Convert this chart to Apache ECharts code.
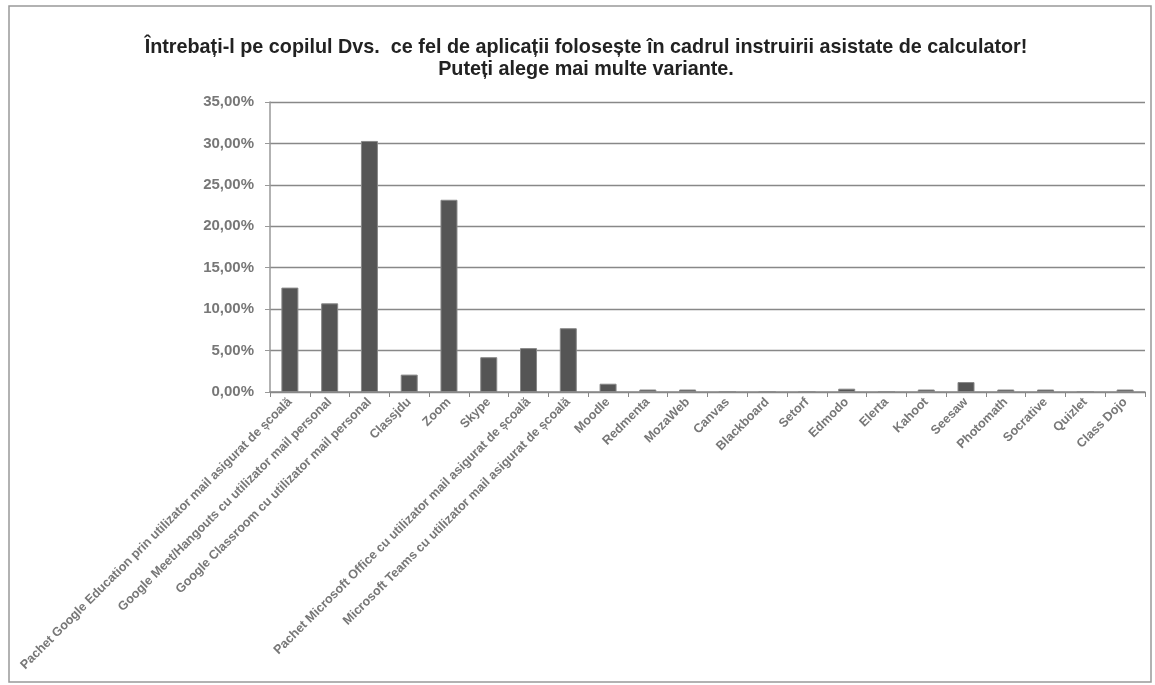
<!DOCTYPE html>
<html>
<head>
<meta charset="utf-8">
<script src="https://cdn.jsdelivr.net/npm/echarts@6/dist/echarts.min.js"></script>
<style>
  html, body { margin: 0; padding: 0; background: #fff; }
  #chart { width: 1155px; height: 685px; }
</style>
</head>
<body>
<div id="chart"></div>
<script>
  const categories = [
    'Pachet Google Education prin utilizator mail asigurat de școală',
    'Google Meet/Hangouts cu utilizator mail personal',
    'Google Classroom cu utilizator mail personal',
    'Classjdu',
    'Zoom',
    'Skype',
    'Pachet Microsoft Office cu utilizator mail asigurat de școală',
    'Microsoft Teams cu utilizator mail asigurat de școală',
    'Moodle',
    'Redmenta',
    'MozaWeb',
    'Canvas',
    'Blackboard',
    'Setorf',
    'Edmodo',
    'Elerta',
    'Kahoot',
    'Seesaw',
    'Photomath',
    'Socrative',
    'Quizlet',
    'Class Dojo'
  ]
  // procente
  const values = [12.6, 10.7, 30.3, 2.1, 23.2, 4.2, 5.3, 7.7, 1.0, 0.3, 0.3, 0, 0, 0, 0.4, 0, 0.3, 1.2, 0.3, 0.3, 0, 0.3]
  const yTicks = { min: 0, max: 35, interval: 5 }

  const titleLines = [
    'Întrebați-l pe copilul Dvs.  ce fel de aplicații folosește în cadrul instruirii asistate de calculator!',
    'Puteți alege mai multe variante.'
  ]

  const chart = echarts.init(document.getElementById('chart'))
  chart.setOption({
    backgroundColor: '#fff',
    animation: false,
    title: {
      text: titleLines.join('\n'),
      left: 581,
      top: 32,
      textAlign: 'center',
      textStyle: {
        fontFamily: 'Liberation Sans, Arial, sans-serif',
        fontSize: 19.8,
        fontWeight: 'bold',
        color: '#222',
        lineHeight: 22
      }
    },
    graphic: [{
      type: 'rect',
      shape: { x: 9, y: 6, width: 1142, height: 676 },
      style: { fill: 'none', stroke: '#999', lineWidth: 1.5 },
      silent: true
    }],
    grid: { left: 270, right: 10, top: 102, bottom: 293 },
    xAxis: {
      type: 'category',
      data: categories,
      axisLine: { lineStyle: { color: '#888', width: 1.5 } },
      axisTick: { show: true, alignWithLabel: false, length: 5, lineStyle: { color: '#888' } },
      axisLabel: {
        interval: 0,
        rotate: 45,
        margin: 8,
        color: '#777',
        fontSize: 12.6,
        fontWeight: 'bold',
        fontFamily: 'Liberation Sans, Arial, sans-serif'
      }
    },
    yAxis: {
      type: 'value',
      min: yTicks.min,
      max: yTicks.max,
      interval: yTicks.interval,
      axisLine: { show: true, lineStyle: { color: '#999', width: 1.5 } },
      axisTick: { show: true, length: 5, lineStyle: { color: '#999' } },
      splitLine: { lineStyle: { color: '#888', width: 1.3 } },
      axisLabel: {
        margin: 16,
        color: '#777',
        fontSize: 15,
        fontWeight: 'bold',
        fontFamily: 'Liberation Sans, Arial, sans-serif',
        formatter: v => v.toFixed(2).replace('.', ',') + '%'
      }
    },
    series: [{
      type: 'bar',
      data: values,
      barWidth: 17,
      itemStyle: {
        color: '#555',
        borderColor: '#888',
        borderWidth: 1
      }
    }]
  })
</script>
</body>
</html>
